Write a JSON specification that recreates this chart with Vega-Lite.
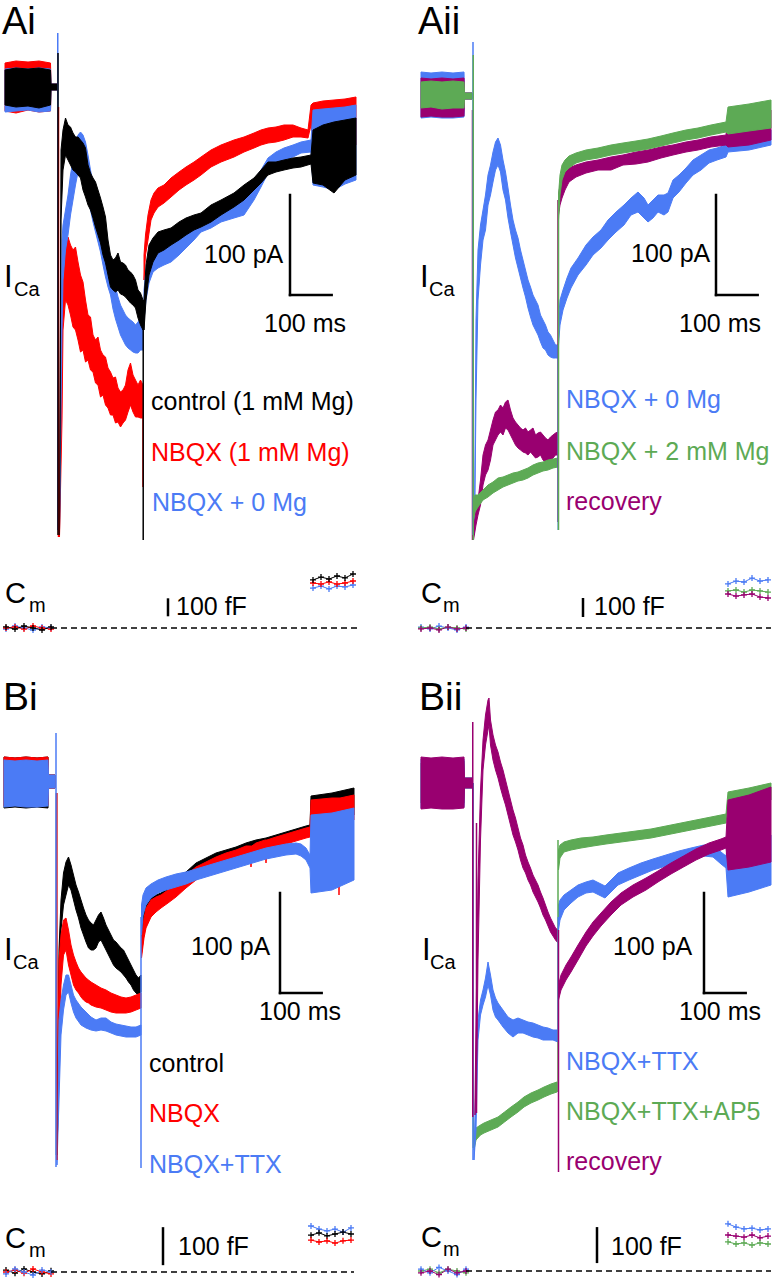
{
"$schema": "https://vega.github.io/schema/vega-lite/v6.json",
"padding": 0,
"spacing": 0,
"background": "white",
"config": {"view": {"stroke": null}, "axis": {"disable": true}, "text": {"font": "Liberation Sans", "fontSize": 25, "baseline": "alphabetic", "align": "left"}},
"datasets": {
"ai_red": [
{"seg":"pre","t":-127.2,"hi":24,"lo":-24},{"seg":"pre","t":-100.8,"hi":26,"lo":-26},{"seg":"pre","t":-72,"hi":25,"lo":-23},{"seg":"pre","t":-45.6,"hi":26,"lo":-25},{"seg":"pre","t":-18,"hi":24,"lo":-24},{"seg":"pre","t":-16.8,"hi":3,"lo":-3},{"seg":"pre","t":-2.4,"hi":3,"lo":-3},
{"seg":"pulse","t":3.6,"hi":-443,"lo":-450},{"seg":"pulse","t":9.6,"hi":-213,"lo":-333},{"seg":"pulse","t":12,"hi":-173,"lo":-243},{"seg":"pulse","t":18,"hi":-158,"lo":-213},{"seg":"pulse","t":24,"hi":-150,"lo":-218},{"seg":"pulse","t":30,"hi":-158,"lo":-228},{"seg":"pulse","t":36,"hi":-163,"lo":-240},{"seg":"pulse","t":42,"hi":-160,"lo":-243},{"seg":"pulse","t":48,"hi":-175,"lo":-253},{"seg":"pulse","t":54,"hi":-188,"lo":-265},{"seg":"pulse","t":60,"hi":-195,"lo":-263},{"seg":"pulse","t":66,"hi":-213,"lo":-275},{"seg":"pulse","t":72,"hi":-228,"lo":-273},{"seg":"pulse","t":78,"hi":-230,"lo":-283},{"seg":"pulse","t":84,"hi":-248,"lo":-285},{"seg":"pulse","t":90,"hi":-253,"lo":-296},{"seg":"pulse","t":96,"hi":-250,"lo":-298},{"seg":"pulse","t":102,"hi":-263,"lo":-310},{"seg":"pulse","t":108,"hi":-268,"lo":-308},{"seg":"pulse","t":114,"hi":-270,"lo":-318},{"seg":"pulse","t":120,"hi":-281,"lo":-321},{"seg":"pulse","t":126,"hi":-285,"lo":-328},{"seg":"pulse","t":132,"hi":-291,"lo":-328},{"seg":"pulse","t":138,"hi":-290,"lo":-336},{"seg":"pulse","t":144,"hi":-301,"lo":-335},{"seg":"pulse","t":150,"hi":-305,"lo":-340},{"seg":"pulse","t":156,"hi":-303,"lo":-336},{"seg":"pulse","t":162,"hi":-298,"lo":-333},{"seg":"pulse","t":168,"hi":-283,"lo":-325},{"seg":"pulse","t":174,"hi":-276,"lo":-318},{"seg":"pulse","t":180,"hi":-288,"lo":-325},{"seg":"pulse","t":186,"hi":-293,"lo":-330},{"seg":"pulse","t":192,"hi":-298,"lo":-330},{"seg":"pulse","t":198,"hi":-293,"lo":-331},{"seg":"pulse","t":204,"hi":-298,"lo":-331},
{"seg":"post","t":206.4,"hi":-168,"lo":-193},{"seg":"post","t":210,"hi":-148,"lo":-168},{"seg":"post","t":216,"hi":-128,"lo":-153},{"seg":"post","t":223.2,"hi":-113,"lo":-133},{"seg":"post","t":230.4,"hi":-106,"lo":-126},{"seg":"post","t":240,"hi":-101,"lo":-120},{"seg":"post","t":254.4,"hi":-98,"lo":-116},{"seg":"post","t":271.2,"hi":-91,"lo":-110},{"seg":"post","t":290.4,"hi":-85,"lo":-103},{"seg":"post","t":307.2,"hi":-80,"lo":-98},{"seg":"post","t":326.4,"hi":-75,"lo":-93},{"seg":"post","t":343.2,"hi":-70,"lo":-88},{"seg":"post","t":367.2,"hi":-63,"lo":-80},{"seg":"post","t":391.2,"hi":-58,"lo":-75},{"seg":"post","t":422.4,"hi":-53,"lo":-70},{"seg":"post","t":446.4,"hi":-50,"lo":-65},{"seg":"post","t":470.4,"hi":-46,"lo":-61},{"seg":"post","t":487.2,"hi":-43,"lo":-58},{"seg":"post","t":504,"hi":-41,"lo":-56},{"seg":"post","t":523.2,"hi":-40,"lo":-55},{"seg":"post","t":542.4,"hi":-38,"lo":-53},{"seg":"post","t":564,"hi":-38,"lo":-50},{"seg":"post","t":583.2,"hi":-41,"lo":-50},{"seg":"post","t":600,"hi":-43,"lo":-51},{"seg":"post","t":607.2,"hi":-18,"lo":-38},{"seg":"post","t":612,"hi":-16,"lo":-63},{"seg":"post","t":636,"hi":-14,"lo":-62},{"seg":"post","t":662.4,"hi":-13,"lo":-63},{"seg":"post","t":688.8,"hi":-12,"lo":-60},{"seg":"post","t":715.2,"hi":-10,"lo":-58}
],
"ai_blue": [
{"seg":"pre","t":-127.2,"hi":18,"lo":-25},{"seg":"pre","t":-100.8,"hi":19,"lo":-24},{"seg":"pre","t":-72,"hi":18,"lo":-23},{"seg":"pre","t":-45.6,"hi":19,"lo":-25},{"seg":"pre","t":-18,"hi":18,"lo":-24},{"seg":"pre","t":-16.8,"hi":3,"lo":-3},{"seg":"pre","t":-2.4,"hi":3,"lo":-3},
{"seg":"pulse","t":3.6,"hi":-433,"lo":-443},{"seg":"pulse","t":9.6,"hi":-153,"lo":-243},{"seg":"pulse","t":12,"hi":-138,"lo":-193},{"seg":"pulse","t":18,"hi":-123,"lo":-163},{"seg":"pulse","t":24,"hi":-108,"lo":-148},{"seg":"pulse","t":30,"hi":-88,"lo":-128},{"seg":"pulse","t":36,"hi":-73,"lo":-113},{"seg":"pulse","t":42,"hi":-58,"lo":-98},{"seg":"pulse","t":48,"hi":-48,"lo":-85},{"seg":"pulse","t":54,"hi":-45,"lo":-81},{"seg":"pulse","t":60,"hi":-48,"lo":-85},{"seg":"pulse","t":66,"hi":-55,"lo":-93},{"seg":"pulse","t":72,"hi":-68,"lo":-108},{"seg":"pulse","t":78,"hi":-83,"lo":-123},{"seg":"pulse","t":84,"hi":-96,"lo":-135},{"seg":"pulse","t":90,"hi":-108,"lo":-145},{"seg":"pulse","t":96,"hi":-118,"lo":-155},{"seg":"pulse","t":102,"hi":-128,"lo":-165},{"seg":"pulse","t":108,"hi":-141,"lo":-178},{"seg":"pulse","t":114,"hi":-153,"lo":-190},{"seg":"pulse","t":120,"hi":-163,"lo":-200},{"seg":"pulse","t":126,"hi":-173,"lo":-208},{"seg":"pulse","t":132,"hi":-188,"lo":-222},{"seg":"pulse","t":138,"hi":-200,"lo":-232},{"seg":"pulse","t":144,"hi":-210,"lo":-240},{"seg":"pulse","t":150,"hi":-218,"lo":-248},{"seg":"pulse","t":156,"hi":-223,"lo":-253},{"seg":"pulse","t":162,"hi":-228,"lo":-258},{"seg":"pulse","t":168,"hi":-231,"lo":-261},{"seg":"pulse","t":174,"hi":-233,"lo":-263},{"seg":"pulse","t":180,"hi":-235,"lo":-265},{"seg":"pulse","t":186,"hi":-238,"lo":-266},{"seg":"pulse","t":192,"hi":-235,"lo":-266},{"seg":"pulse","t":198,"hi":-231,"lo":-263},{"seg":"pulse","t":204,"hi":-228,"lo":-263},
{"seg":"post","t":206.4,"hi":-203,"lo":-233},{"seg":"post","t":211.2,"hi":-183,"lo":-213},{"seg":"post","t":218.4,"hi":-171,"lo":-196},{"seg":"post","t":228,"hi":-163,"lo":-185},{"seg":"post","t":240,"hi":-161,"lo":-181},{"seg":"post","t":254.4,"hi":-158,"lo":-178},{"seg":"post","t":271.2,"hi":-153,"lo":-175},{"seg":"post","t":290.4,"hi":-148,"lo":-168},{"seg":"post","t":307.2,"hi":-141,"lo":-161},{"seg":"post","t":326.4,"hi":-135,"lo":-153},{"seg":"post","t":343.2,"hi":-128,"lo":-145},{"seg":"post","t":367.2,"hi":-123,"lo":-141},{"seg":"post","t":391.2,"hi":-118,"lo":-135},{"seg":"post","t":422.4,"hi":-111,"lo":-131},{"seg":"post","t":446.4,"hi":-103,"lo":-128},{"seg":"post","t":470.4,"hi":-93,"lo":-113},{"seg":"post","t":487.2,"hi":-83,"lo":-100},{"seg":"post","t":504,"hi":-71,"lo":-86},{"seg":"post","t":523.2,"hi":-65,"lo":-78},{"seg":"post","t":542.4,"hi":-61,"lo":-73},{"seg":"post","t":564,"hi":-58,"lo":-70},{"seg":"post","t":583.2,"hi":-55,"lo":-66},{"seg":"post","t":607.2,"hi":-53,"lo":-65},{"seg":"post","t":612,"hi":-23,"lo":-98},{"seg":"post","t":636,"hi":-22,"lo":-100},{"seg":"post","t":662.4,"hi":-21,"lo":-103},{"seg":"post","t":688.8,"hi":-20,"lo":-97},{"seg":"post","t":715.2,"hi":-18,"lo":-93}
],
"ai_black": [
{"seg":"pre","t":-127.2,"hi":17,"lo":-18},{"seg":"pre","t":-100.8,"hi":19,"lo":-20},{"seg":"pre","t":-72,"hi":18,"lo":-19},{"seg":"pre","t":-45.6,"hi":19,"lo":-21},{"seg":"pre","t":-18,"hi":17,"lo":-18},{"seg":"pre","t":-16.8,"hi":3,"lo":-3},{"seg":"pre","t":-2.4,"hi":3,"lo":-3},
{"seg":"pulse","t":3.6,"hi":-443,"lo":-448},{"seg":"pulse","t":7.2,"hi":-63,"lo":-133},{"seg":"pulse","t":12,"hi":-43,"lo":-83},{"seg":"pulse","t":18,"hi":-31,"lo":-68},{"seg":"pulse","t":24,"hi":-38,"lo":-73},{"seg":"pulse","t":30,"hi":-40,"lo":-78},{"seg":"pulse","t":36,"hi":-46,"lo":-83},{"seg":"pulse","t":42,"hi":-50,"lo":-85},{"seg":"pulse","t":48,"hi":-50,"lo":-88},{"seg":"pulse","t":54,"hi":-53,"lo":-91},{"seg":"pulse","t":60,"hi":-56,"lo":-103},{"seg":"pulse","t":66,"hi":-61,"lo":-110},{"seg":"pulse","t":72,"hi":-78,"lo":-118},{"seg":"pulse","t":78,"hi":-86,"lo":-123},{"seg":"pulse","t":84,"hi":-91,"lo":-131},{"seg":"pulse","t":90,"hi":-95,"lo":-140},{"seg":"pulse","t":96,"hi":-103,"lo":-148},{"seg":"pulse","t":102,"hi":-111,"lo":-156},{"seg":"pulse","t":108,"hi":-120,"lo":-168},{"seg":"pulse","t":114,"hi":-130,"lo":-176},{"seg":"pulse","t":120,"hi":-153,"lo":-188},{"seg":"pulse","t":126,"hi":-168,"lo":-200},{"seg":"pulse","t":132,"hi":-173,"lo":-203},{"seg":"pulse","t":138,"hi":-171,"lo":-205},{"seg":"pulse","t":144,"hi":-166,"lo":-203},{"seg":"pulse","t":150,"hi":-175,"lo":-207},{"seg":"pulse","t":156,"hi":-176,"lo":-208},{"seg":"pulse","t":162,"hi":-178,"lo":-210},{"seg":"pulse","t":168,"hi":-183,"lo":-213},{"seg":"pulse","t":174,"hi":-185,"lo":-216},{"seg":"pulse","t":180,"hi":-188,"lo":-218},{"seg":"pulse","t":186,"hi":-193,"lo":-221},{"seg":"pulse","t":192,"hi":-203,"lo":-231},{"seg":"pulse","t":198,"hi":-206,"lo":-238},{"seg":"pulse","t":204,"hi":-213,"lo":-243},
{"seg":"post","t":206.4,"hi":-213,"lo":-243},{"seg":"post","t":211.2,"hi":-178,"lo":-213},{"seg":"post","t":218.4,"hi":-158,"lo":-188},{"seg":"post","t":228,"hi":-151,"lo":-175},{"seg":"post","t":240,"hi":-145,"lo":-166},{"seg":"post","t":254.4,"hi":-143,"lo":-163},{"seg":"post","t":271.2,"hi":-141,"lo":-158},{"seg":"post","t":290.4,"hi":-135,"lo":-153},{"seg":"post","t":307.2,"hi":-131,"lo":-148},{"seg":"post","t":326.4,"hi":-128,"lo":-143},{"seg":"post","t":343.2,"hi":-126,"lo":-140},{"seg":"post","t":367.2,"hi":-118,"lo":-135},{"seg":"post","t":391.2,"hi":-113,"lo":-128},{"seg":"post","t":422.4,"hi":-106,"lo":-120},{"seg":"post","t":446.4,"hi":-98,"lo":-113},{"seg":"post","t":470.4,"hi":-91,"lo":-103},{"seg":"post","t":487.2,"hi":-83,"lo":-96},{"seg":"post","t":504,"hi":-75,"lo":-88},{"seg":"post","t":523.2,"hi":-75,"lo":-85},{"seg":"post","t":542.4,"hi":-73,"lo":-83},{"seg":"post","t":564,"hi":-71,"lo":-81},{"seg":"post","t":583.2,"hi":-70,"lo":-80},{"seg":"post","t":607.2,"hi":-68,"lo":-77},{"seg":"post","t":612,"hi":-43,"lo":-96},{"seg":"post","t":636,"hi":-38,"lo":-98},{"seg":"post","t":662.4,"hi":-35,"lo":-106},{"seg":"post","t":688.8,"hi":-33,"lo":-93},{"seg":"post","t":715.2,"hi":-31,"lo":-88}
],
"ai_tr": [
{"trace":"NBQX + 0 Mg","t":-0.6,"top":54,"bottom":-443},{"trace":"NBQX","t":1.2,"top":-20,"bottom":-450},{"trace":"control","t":0,"top":34,"bottom":-448},{"trace":"NBQX","t":204,"top":-331,"bottom":-400},{"trace":"control","t":204.5,"top":-213,"bottom":-453}
],
"ai_cm": [
{"trace":"NBQX + 0 Mg","phase":"pre","t":-124.8,"fF":-6},{"trace":"NBQX + 0 Mg","phase":"pre","t":-103.2,"fF":11},{"trace":"NBQX + 0 Mg","phase":"pre","t":-81.6,"fF":0},{"trace":"NBQX + 0 Mg","phase":"pre","t":-60,"fF":-11},{"trace":"NBQX + 0 Mg","phase":"pre","t":-38.4,"fF":6},{"trace":"NBQX + 0 Mg","phase":"pre","t":-16.8,"fF":0},
{"trace":"NBQX","phase":"pre","t":-124.8,"fF":0},{"trace":"NBQX","phase":"pre","t":-103.2,"fF":6},{"trace":"NBQX","phase":"pre","t":-81.6,"fF":-6},{"trace":"NBQX","phase":"pre","t":-60,"fF":11},{"trace":"NBQX","phase":"pre","t":-38.4,"fF":0},{"trace":"NBQX","phase":"pre","t":-16.8,"fF":-6},
{"trace":"control","phase":"pre","t":-124.8,"fF":6},{"trace":"control","phase":"pre","t":-103.2,"fF":-6},{"trace":"control","phase":"pre","t":-81.6,"fF":11},{"trace":"control","phase":"pre","t":-60,"fF":0},{"trace":"control","phase":"pre","t":-38.4,"fF":-11},{"trace":"control","phase":"pre","t":-16.8,"fF":6},
{"trace":"NBQX + 0 Mg","phase":"post","t":612,"fF":222},{"trace":"NBQX + 0 Mg","phase":"post","t":631.2,"fF":233},{"trace":"NBQX + 0 Mg","phase":"post","t":650.4,"fF":217},{"trace":"NBQX + 0 Mg","phase":"post","t":669.6,"fF":233},{"trace":"NBQX + 0 Mg","phase":"post","t":688.8,"fF":228},{"trace":"NBQX + 0 Mg","phase":"post","t":708,"fF":239},
{"trace":"NBQX","phase":"post","t":612,"fF":250},{"trace":"NBQX","phase":"post","t":631.2,"fF":244},{"trace":"NBQX","phase":"post","t":650.4,"fF":256},{"trace":"NBQX","phase":"post","t":669.6,"fF":244},{"trace":"NBQX","phase":"post","t":688.8,"fF":250},{"trace":"NBQX","phase":"post","t":708,"fF":261},
{"trace":"control","phase":"post","t":612,"fF":267},{"trace":"control","phase":"post","t":631.2,"fF":283},{"trace":"control","phase":"post","t":650.4,"fF":272},{"trace":"control","phase":"post","t":669.6,"fF":289},{"trace":"control","phase":"post","t":688.8,"fF":278},{"trace":"control","phase":"post","t":708,"fF":300}
],
"aii_blue": [
{"seg":"pre","t":-124.8,"hi":23,"lo":-23},{"seg":"pre","t":-100.8,"hi":22,"lo":-22},{"seg":"pre","t":-74.4,"hi":23,"lo":-23},{"seg":"pre","t":-48,"hi":22,"lo":-23},{"seg":"pre","t":-21.6,"hi":23,"lo":-22},{"seg":"pre","t":-20.4,"hi":2,"lo":-4},{"seg":"pre","t":-2.4,"hi":2,"lo":-4},
{"seg":"pulse","t":3.6,"hi":-430,"lo":-440},{"seg":"pulse","t":7.2,"hi":-225,"lo":-305},{"seg":"pulse","t":12,"hi":-155,"lo":-205},{"seg":"pulse","t":18,"hi":-130,"lo":-170},{"seg":"pulse","t":24,"hi":-115,"lo":-145},{"seg":"pulse","t":30,"hi":-100,"lo":-135},{"seg":"pulse","t":36,"hi":-80,"lo":-110},{"seg":"pulse","t":42,"hi":-70,"lo":-100},{"seg":"pulse","t":48,"hi":-57,"lo":-87},{"seg":"pulse","t":54,"hi":-47,"lo":-75},{"seg":"pulse","t":60,"hi":-43,"lo":-70},{"seg":"pulse","t":66,"hi":-50,"lo":-77},{"seg":"pulse","t":72,"hi":-65,"lo":-95},{"seg":"pulse","t":78,"hi":-77,"lo":-105},{"seg":"pulse","t":84,"hi":-93,"lo":-123},{"seg":"pulse","t":90,"hi":-110,"lo":-137},{"seg":"pulse","t":96,"hi":-125,"lo":-150},{"seg":"pulse","t":102,"hi":-135,"lo":-163},{"seg":"pulse","t":108,"hi":-143,"lo":-173},{"seg":"pulse","t":114,"hi":-155,"lo":-183},{"seg":"pulse","t":120,"hi":-165,"lo":-193},{"seg":"pulse","t":126,"hi":-175,"lo":-202},{"seg":"pulse","t":132,"hi":-185,"lo":-213},{"seg":"pulse","t":138,"hi":-192,"lo":-222},{"seg":"pulse","t":144,"hi":-200,"lo":-230},{"seg":"pulse","t":150,"hi":-205,"lo":-235},{"seg":"pulse","t":156,"hi":-210,"lo":-240},{"seg":"pulse","t":162,"hi":-220,"lo":-247},{"seg":"pulse","t":168,"hi":-225,"lo":-253},{"seg":"pulse","t":174,"hi":-230,"lo":-255},{"seg":"pulse","t":180,"hi":-237,"lo":-260},{"seg":"pulse","t":186,"hi":-240,"lo":-262},{"seg":"pulse","t":192,"hi":-245,"lo":-263},{"seg":"pulse","t":198,"hi":-250,"lo":-263},{"seg":"pulse","t":204,"hi":-250,"lo":-263},
{"seg":"post","t":205.2,"hi":-225,"lo":-250},{"seg":"post","t":208.8,"hi":-205,"lo":-230},{"seg":"post","t":216,"hi":-195,"lo":-215},{"seg":"post","t":225.6,"hi":-183,"lo":-203},{"seg":"post","t":235.2,"hi":-173,"lo":-193},{"seg":"post","t":252,"hi":-163,"lo":-180},{"seg":"post","t":271.2,"hi":-150,"lo":-170},{"seg":"post","t":288,"hi":-142,"lo":-160},{"seg":"post","t":307.2,"hi":-135,"lo":-153},{"seg":"post","t":324,"hi":-125,"lo":-145},{"seg":"post","t":343.2,"hi":-117,"lo":-137},{"seg":"post","t":362.4,"hi":-110,"lo":-130},{"seg":"post","t":379.2,"hi":-103,"lo":-120},{"seg":"post","t":396,"hi":-97,"lo":-117},{"seg":"post","t":410.4,"hi":-103,"lo":-123},{"seg":"post","t":420,"hi":-110,"lo":-127},{"seg":"post","t":432,"hi":-105,"lo":-123},{"seg":"post","t":444,"hi":-100,"lo":-117},{"seg":"post","t":458.4,"hi":-100,"lo":-120},{"seg":"post","t":468,"hi":-98,"lo":-117},{"seg":"post","t":480,"hi":-85,"lo":-103},{"seg":"post","t":494.4,"hi":-80,"lo":-97},{"seg":"post","t":511.2,"hi":-73,"lo":-88},{"seg":"post","t":528,"hi":-65,"lo":-80},{"seg":"post","t":547.2,"hi":-60,"lo":-75},{"seg":"post","t":566.4,"hi":-55,"lo":-68},{"seg":"post","t":585.6,"hi":-53,"lo":-65},{"seg":"post","t":607.2,"hi":-50,"lo":-62},{"seg":"post","t":612,"hi":-43,"lo":-57},{"seg":"post","t":662.4,"hi":-40,"lo":-55},{"seg":"post","t":715.2,"hi":-35,"lo":-50}
],
"aii_purple": [
{"seg":"pre","t":-124.8,"hi":17,"lo":-22},{"seg":"pre","t":-100.8,"hi":16,"lo":-21},{"seg":"pre","t":-74.4,"hi":17,"lo":-22},{"seg":"pre","t":-48,"hi":16,"lo":-22},{"seg":"pre","t":-21.6,"hi":17,"lo":-21},{"seg":"pre","t":-20.4,"hi":2,"lo":-4},{"seg":"pre","t":-2.4,"hi":2,"lo":-4},
{"seg":"pulse","t":1.2,"hi":-435,"lo":-445},{"seg":"pulse","t":7.2,"hi":-415,"lo":-430},{"seg":"pulse","t":12,"hi":-405,"lo":-420},{"seg":"pulse","t":18,"hi":-385,"lo":-410},{"seg":"pulse","t":24,"hi":-360,"lo":-390},{"seg":"pulse","t":30,"hi":-350,"lo":-380},{"seg":"pulse","t":36,"hi":-345,"lo":-375},{"seg":"pulse","t":42,"hi":-335,"lo":-365},{"seg":"pulse","t":48,"hi":-325,"lo":-350},{"seg":"pulse","t":54,"hi":-317,"lo":-345},{"seg":"pulse","t":60,"hi":-315,"lo":-340},{"seg":"pulse","t":66,"hi":-310,"lo":-337},{"seg":"pulse","t":72,"hi":-313,"lo":-340},{"seg":"pulse","t":78,"hi":-307,"lo":-333},{"seg":"pulse","t":84,"hi":-305,"lo":-335},{"seg":"pulse","t":90,"hi":-315,"lo":-340},{"seg":"pulse","t":96,"hi":-323,"lo":-345},{"seg":"pulse","t":102,"hi":-327,"lo":-350},{"seg":"pulse","t":108,"hi":-330,"lo":-353},{"seg":"pulse","t":114,"hi":-333,"lo":-355},{"seg":"pulse","t":120,"hi":-335,"lo":-357},{"seg":"pulse","t":126,"hi":-333,"lo":-358},{"seg":"pulse","t":132,"hi":-337,"lo":-360},{"seg":"pulse","t":138,"hi":-335,"lo":-357},{"seg":"pulse","t":144,"hi":-333,"lo":-360},{"seg":"pulse","t":150,"hi":-340,"lo":-363},{"seg":"pulse","t":156,"hi":-338,"lo":-362},{"seg":"pulse","t":162,"hi":-337,"lo":-360},{"seg":"pulse","t":168,"hi":-340,"lo":-365},{"seg":"pulse","t":174,"hi":-343,"lo":-367},{"seg":"pulse","t":180,"hi":-345,"lo":-368},{"seg":"pulse","t":186,"hi":-342,"lo":-365},{"seg":"pulse","t":192,"hi":-340,"lo":-363},{"seg":"pulse","t":198,"hi":-338,"lo":-360},{"seg":"pulse","t":204,"hi":-337,"lo":-360},
{"seg":"post","t":205.2,"hi":-100,"lo":-120},{"seg":"post","t":208.8,"hi":-90,"lo":-110},{"seg":"post","t":213.6,"hi":-83,"lo":-103},{"seg":"post","t":220.8,"hi":-77,"lo":-95},{"seg":"post","t":230.4,"hi":-73,"lo":-87},{"seg":"post","t":247.2,"hi":-70,"lo":-82},{"seg":"post","t":271.2,"hi":-67,"lo":-78},{"seg":"post","t":300,"hi":-65,"lo":-75},{"seg":"post","t":331.2,"hi":-62,"lo":-75},{"seg":"post","t":360,"hi":-60,"lo":-70},{"seg":"post","t":391.2,"hi":-57,"lo":-69},{"seg":"post","t":420,"hi":-55,"lo":-67},{"seg":"post","t":451.2,"hi":-52,"lo":-63},{"seg":"post","t":480,"hi":-50,"lo":-60},{"seg":"post","t":511.2,"hi":-47,"lo":-57},{"seg":"post","t":540,"hi":-45,"lo":-55},{"seg":"post","t":571.2,"hi":-42,"lo":-52},{"seg":"post","t":607.2,"hi":-40,"lo":-50},{"seg":"post","t":612,"hi":-20,"lo":-52},{"seg":"post","t":662.4,"hi":-17,"lo":-50},{"seg":"post","t":715.2,"hi":-15,"lo":-45}
],
"aii_green": [
{"seg":"pre","t":-124.8,"hi":13,"lo":-13},{"seg":"pre","t":-100.8,"hi":14,"lo":-12},{"seg":"pre","t":-74.4,"hi":13,"lo":-14},{"seg":"pre","t":-48,"hi":14,"lo":-13},{"seg":"pre","t":-21.6,"hi":13,"lo":-13},{"seg":"pre","t":-20.4,"hi":2,"lo":-4},{"seg":"pre","t":-2.4,"hi":2,"lo":-4},
{"seg":"pulse","t":1.2,"hi":-410,"lo":-425},{"seg":"pulse","t":4.8,"hi":-400,"lo":-417},{"seg":"pulse","t":12,"hi":-400,"lo":-412},{"seg":"pulse","t":24,"hi":-395,"lo":-405},{"seg":"pulse","t":36,"hi":-390,"lo":-402},{"seg":"pulse","t":48,"hi":-387,"lo":-398},{"seg":"pulse","t":60,"hi":-383,"lo":-395},{"seg":"pulse","t":72,"hi":-382,"lo":-392},{"seg":"pulse","t":84,"hi":-380,"lo":-390},{"seg":"pulse","t":96,"hi":-378,"lo":-388},{"seg":"pulse","t":108,"hi":-377,"lo":-386},{"seg":"pulse","t":120,"hi":-375,"lo":-385},{"seg":"pulse","t":132,"hi":-373,"lo":-383},{"seg":"pulse","t":144,"hi":-370,"lo":-380},{"seg":"pulse","t":156,"hi":-368,"lo":-378},{"seg":"pulse","t":168,"hi":-367,"lo":-376},{"seg":"pulse","t":180,"hi":-365,"lo":-375},{"seg":"pulse","t":192,"hi":-364,"lo":-373},{"seg":"pulse","t":204,"hi":-363,"lo":-372},
{"seg":"post","t":205.2,"hi":-100,"lo":-125},{"seg":"post","t":208.8,"hi":-80,"lo":-100},{"seg":"post","t":213.6,"hi":-70,"lo":-85},{"seg":"post","t":220.8,"hi":-65,"lo":-77},{"seg":"post","t":230.4,"hi":-61,"lo":-73},{"seg":"post","t":247.2,"hi":-58,"lo":-68},{"seg":"post","t":271.2,"hi":-55,"lo":-65},{"seg":"post","t":300,"hi":-53,"lo":-63},{"seg":"post","t":331.2,"hi":-50,"lo":-60},{"seg":"post","t":360,"hi":-48,"lo":-58},{"seg":"post","t":391.2,"hi":-46,"lo":-56},{"seg":"post","t":420,"hi":-44,"lo":-54},{"seg":"post","t":451.2,"hi":-41,"lo":-51},{"seg":"post","t":480,"hi":-38,"lo":-48},{"seg":"post","t":511.2,"hi":-35,"lo":-45},{"seg":"post","t":540,"hi":-33,"lo":-43},{"seg":"post","t":571.2,"hi":-30,"lo":-40},{"seg":"post","t":607.2,"hi":-27,"lo":-37},{"seg":"post","t":612,"hi":-12,"lo":-39},{"seg":"post","t":662.4,"hi":-9,"lo":-36},{"seg":"post","t":715.2,"hi":-5,"lo":-33}
],
"aii_tr": [
{"trace":"recovery","t":-1.2,"top":-15,"bottom":-445},{"trace":"NBQX + 0 Mg","t":0,"top":53,"bottom":-440},{"trace":"NBQX + 2 mM Mg","t":0.6,"top":40,"bottom":-445},{"trace":"recovery","t":204,"top":-105,"bottom":-427},{"trace":"NBQX + 0 Mg","t":204.6,"top":-250,"bottom":-435},{"trace":"NBQX + 2 mM Mg","t":205.2,"top":-105,"bottom":-435}
],
"aii_cm": [
{"trace":"NBQX + 0 Mg","phase":"pre","t":-124.8,"fF":5},{"trace":"NBQX + 0 Mg","phase":"pre","t":-103.2,"fF":-5},{"trace":"NBQX + 0 Mg","phase":"pre","t":-81.6,"fF":10},{"trace":"NBQX + 0 Mg","phase":"pre","t":-60,"fF":0},{"trace":"NBQX + 0 Mg","phase":"pre","t":-38.4,"fF":-10},{"trace":"NBQX + 0 Mg","phase":"pre","t":-16.8,"fF":5},
{"trace":"NBQX + 2 mM Mg","phase":"pre","t":-124.8,"fF":0},{"trace":"NBQX + 2 mM Mg","phase":"pre","t":-103.2,"fF":5},{"trace":"NBQX + 2 mM Mg","phase":"pre","t":-81.6,"fF":-5},{"trace":"NBQX + 2 mM Mg","phase":"pre","t":-60,"fF":5},{"trace":"NBQX + 2 mM Mg","phase":"pre","t":-38.4,"fF":0},{"trace":"NBQX + 2 mM Mg","phase":"pre","t":-16.8,"fF":-5},
{"trace":"recovery","phase":"pre","t":-124.8,"fF":-5},{"trace":"recovery","phase":"pre","t":-103.2,"fF":0},{"trace":"recovery","phase":"pre","t":-81.6,"fF":-10},{"trace":"recovery","phase":"pre","t":-60,"fF":5},{"trace":"recovery","phase":"pre","t":-38.4,"fF":-5},{"trace":"recovery","phase":"pre","t":-16.8,"fF":0},
{"trace":"NBQX + 0 Mg","phase":"post","t":612,"fF":232},{"trace":"NBQX + 0 Mg","phase":"post","t":631.2,"fF":247},{"trace":"NBQX + 0 Mg","phase":"post","t":650.4,"fF":242},{"trace":"NBQX + 0 Mg","phase":"post","t":669.6,"fF":263},{"trace":"NBQX + 0 Mg","phase":"post","t":688.8,"fF":247},{"trace":"NBQX + 0 Mg","phase":"post","t":708,"fF":253},
{"trace":"NBQX + 2 mM Mg","phase":"post","t":612,"fF":195},{"trace":"NBQX + 2 mM Mg","phase":"post","t":631.2,"fF":200},{"trace":"NBQX + 2 mM Mg","phase":"post","t":650.4,"fF":189},{"trace":"NBQX + 2 mM Mg","phase":"post","t":669.6,"fF":200},{"trace":"NBQX + 2 mM Mg","phase":"post","t":688.8,"fF":195},{"trace":"NBQX + 2 mM Mg","phase":"post","t":708,"fF":189},
{"trace":"recovery","phase":"post","t":612,"fF":179},{"trace":"recovery","phase":"post","t":631.2,"fF":168},{"trace":"recovery","phase":"post","t":650.4,"fF":174},{"trace":"recovery","phase":"post","t":669.6,"fF":179},{"trace":"recovery","phase":"post","t":688.8,"fF":163},{"trace":"recovery","phase":"post","t":708,"fF":158}
],
"bi_black": [
{"seg":"pre","t":-124.8,"hi":26,"lo":-25},{"seg":"pre","t":-98.4,"hi":25,"lo":-24},{"seg":"pre","t":-72,"hi":26,"lo":-25},{"seg":"pre","t":-45.6,"hi":25,"lo":-24},{"seg":"pre","t":-19.2,"hi":26,"lo":-25},{"seg":"pre","t":-18,"hi":8,"lo":-5},{"seg":"pre","t":-2.4,"hi":8,"lo":-5},
{"seg":"pulse","t":2.4,"hi":-367,"lo":-377},{"seg":"pulse","t":7.2,"hi":-167,"lo":-267},{"seg":"pulse","t":12,"hi":-117,"lo":-147},{"seg":"pulse","t":18,"hi":-90,"lo":-122},{"seg":"pulse","t":24,"hi":-79,"lo":-112},{"seg":"pulse","t":30,"hi":-74,"lo":-102},{"seg":"pulse","t":36,"hi":-82,"lo":-107},{"seg":"pulse","t":42,"hi":-92,"lo":-117},{"seg":"pulse","t":48,"hi":-102,"lo":-127},{"seg":"pulse","t":54,"hi":-109,"lo":-135},{"seg":"pulse","t":60,"hi":-117,"lo":-145},{"seg":"pulse","t":66,"hi":-125,"lo":-152},{"seg":"pulse","t":72,"hi":-132,"lo":-159},{"seg":"pulse","t":78,"hi":-137,"lo":-165},{"seg":"pulse","t":84,"hi":-140,"lo":-167},{"seg":"pulse","t":90,"hi":-142,"lo":-167},{"seg":"pulse","t":96,"hi":-137,"lo":-165},{"seg":"pulse","t":102,"hi":-132,"lo":-159},{"seg":"pulse","t":108,"hi":-129,"lo":-157},{"seg":"pulse","t":114,"hi":-135,"lo":-162},{"seg":"pulse","t":120,"hi":-142,"lo":-167},{"seg":"pulse","t":126,"hi":-147,"lo":-172},{"seg":"pulse","t":132,"hi":-152,"lo":-177},{"seg":"pulse","t":138,"hi":-157,"lo":-182},{"seg":"pulse","t":144,"hi":-159,"lo":-185},{"seg":"pulse","t":150,"hi":-162,"lo":-187},{"seg":"pulse","t":156,"hi":-165,"lo":-189},{"seg":"pulse","t":162,"hi":-167,"lo":-192},{"seg":"pulse","t":168,"hi":-172,"lo":-195},{"seg":"pulse","t":174,"hi":-177,"lo":-199},{"seg":"pulse","t":180,"hi":-182,"lo":-202},{"seg":"pulse","t":186,"hi":-187,"lo":-207},{"seg":"pulse","t":192,"hi":-192,"lo":-210},{"seg":"pulse","t":198,"hi":-195,"lo":-212},{"seg":"pulse","t":204,"hi":-192,"lo":-209},
{"seg":"post","t":205.2,"hi":-150,"lo":-170},{"seg":"post","t":211.2,"hi":-130,"lo":-150},{"seg":"post","t":216,"hi":-122,"lo":-142},{"seg":"post","t":228,"hi":-114,"lo":-132},{"seg":"post","t":240,"hi":-112,"lo":-125},{"seg":"post","t":252,"hi":-110,"lo":-122},{"seg":"post","t":268.8,"hi":-104,"lo":-117},{"seg":"post","t":288,"hi":-97,"lo":-110},{"seg":"post","t":312,"hi":-89,"lo":-102},{"seg":"post","t":336,"hi":-80,"lo":-92},{"seg":"post","t":360,"hi":-75,"lo":-87},{"seg":"post","t":384,"hi":-70,"lo":-82},{"seg":"post","t":408,"hi":-67,"lo":-79},{"seg":"post","t":432,"hi":-64,"lo":-75},{"seg":"post","t":456,"hi":-60,"lo":-72},{"seg":"post","t":480,"hi":-57,"lo":-69},{"seg":"post","t":504,"hi":-55,"lo":-65},{"seg":"post","t":528,"hi":-52,"lo":-62},{"seg":"post","t":552,"hi":-49,"lo":-59},{"seg":"post","t":576,"hi":-46,"lo":-56},{"seg":"post","t":600,"hi":-43,"lo":-53},{"seg":"post","t":609.6,"hi":-42,"lo":-52},{"seg":"post","t":612,"hi":-13,"lo":-32},{"seg":"post","t":662.4,"hi":-10,"lo":-32},{"seg":"post","t":715.2,"hi":-5,"lo":-32}
],
"bi_red": [
{"seg":"pre","t":-124.8,"hi":26,"lo":-23},{"seg":"pre","t":-98.4,"hi":25,"lo":-22},{"seg":"pre","t":-72,"hi":26,"lo":-23},{"seg":"pre","t":-45.6,"hi":25,"lo":-23},{"seg":"pre","t":-19.2,"hi":26,"lo":-22},{"seg":"pre","t":-18,"hi":8,"lo":-5},{"seg":"pre","t":-2.4,"hi":8,"lo":-5},
{"seg":"pulse","t":2.4,"hi":-367,"lo":-377},{"seg":"pulse","t":7.2,"hi":-177,"lo":-277},{"seg":"pulse","t":12,"hi":-152,"lo":-202},{"seg":"pulse","t":18,"hi":-137,"lo":-172},{"seg":"pulse","t":24,"hi":-135,"lo":-167},{"seg":"pulse","t":30,"hi":-147,"lo":-182},{"seg":"pulse","t":36,"hi":-162,"lo":-192},{"seg":"pulse","t":42,"hi":-172,"lo":-202},{"seg":"pulse","t":48,"hi":-179,"lo":-207},{"seg":"pulse","t":54,"hi":-185,"lo":-210},{"seg":"pulse","t":60,"hi":-189,"lo":-214},{"seg":"pulse","t":66,"hi":-192,"lo":-217},{"seg":"pulse","t":72,"hi":-195,"lo":-219},{"seg":"pulse","t":78,"hi":-197,"lo":-220},{"seg":"pulse","t":84,"hi":-199,"lo":-222},{"seg":"pulse","t":96,"hi":-202,"lo":-224},{"seg":"pulse","t":108,"hi":-205,"lo":-225},{"seg":"pulse","t":120,"hi":-207,"lo":-227},{"seg":"pulse","t":132,"hi":-210,"lo":-229},{"seg":"pulse","t":144,"hi":-212,"lo":-230},{"seg":"pulse","t":156,"hi":-214,"lo":-230},{"seg":"pulse","t":168,"hi":-215,"lo":-230},{"seg":"pulse","t":180,"hi":-214,"lo":-229},{"seg":"pulse","t":192,"hi":-212,"lo":-227},{"seg":"pulse","t":204,"hi":-210,"lo":-225},
{"seg":"post","t":205.2,"hi":-155,"lo":-175},{"seg":"post","t":211.2,"hi":-135,"lo":-155},{"seg":"post","t":216,"hi":-125,"lo":-145},{"seg":"post","t":228,"hi":-117,"lo":-134},{"seg":"post","t":240,"hi":-114,"lo":-129},{"seg":"post","t":252,"hi":-112,"lo":-125},{"seg":"post","t":268.8,"hi":-107,"lo":-120},{"seg":"post","t":288,"hi":-100,"lo":-114},{"seg":"post","t":312,"hi":-92,"lo":-105},{"seg":"post","t":336,"hi":-84,"lo":-97},{"seg":"post","t":360,"hi":-79,"lo":-90},{"seg":"post","t":384,"hi":-74,"lo":-85},{"seg":"post","t":408,"hi":-70,"lo":-81},{"seg":"post","t":432,"hi":-67,"lo":-77},{"seg":"post","t":456,"hi":-63,"lo":-74},{"seg":"post","t":466,"hi":-63,"lo":-74},{"seg":"post","t":468,"hi":-63,"lo":-84},{"seg":"post","t":470,"hi":-63,"lo":-74},{"seg":"post","t":480,"hi":-60,"lo":-71},{"seg":"post","t":502,"hi":-57,"lo":-68},{"seg":"post","t":504,"hi":-57,"lo":-80},{"seg":"post","t":506,"hi":-57,"lo":-68},{"seg":"post","t":528,"hi":-54,"lo":-64},{"seg":"post","t":552,"hi":-51,"lo":-61},{"seg":"post","t":576,"hi":-48,"lo":-58},{"seg":"post","t":600,"hi":-45,"lo":-55},{"seg":"post","t":609.6,"hi":-44,"lo":-54},{"seg":"post","t":612,"hi":-17,"lo":-39},{"seg":"post","t":662.4,"hi":-15,"lo":-39},{"seg":"post","t":676.8,"hi":-15,"lo":-39},{"seg":"post","t":679.2,"hi":-15,"lo":-112},{"seg":"post","t":681.6,"hi":-15,"lo":-39},{"seg":"post","t":715.2,"hi":-12,"lo":-37}
],
"bi_blue": [
{"seg":"pre","t":-124.8,"hi":23,"lo":-24},{"seg":"pre","t":-98.4,"hi":22,"lo":-23},{"seg":"pre","t":-72,"hi":23,"lo":-24},{"seg":"pre","t":-45.6,"hi":22,"lo":-24},{"seg":"pre","t":-19.2,"hi":23,"lo":-23},{"seg":"pre","t":-18,"hi":8,"lo":-5},{"seg":"pre","t":-2.4,"hi":8,"lo":-5},
{"seg":"pulse","t":2.4,"hi":-372,"lo":-382},{"seg":"pulse","t":7.2,"hi":-237,"lo":-317},{"seg":"pulse","t":12,"hi":-217,"lo":-252},{"seg":"pulse","t":18,"hi":-202,"lo":-227},{"seg":"pulse","t":24,"hi":-192,"lo":-212},{"seg":"pulse","t":30,"hi":-192,"lo":-209},{"seg":"pulse","t":36,"hi":-202,"lo":-220},{"seg":"pulse","t":42,"hi":-212,"lo":-229},{"seg":"pulse","t":48,"hi":-217,"lo":-235},{"seg":"pulse","t":60,"hi":-224,"lo":-242},{"seg":"pulse","t":72,"hi":-229,"lo":-245},{"seg":"pulse","t":84,"hi":-234,"lo":-247},{"seg":"pulse","t":96,"hi":-237,"lo":-248},{"seg":"pulse","t":108,"hi":-235,"lo":-247},{"seg":"pulse","t":120,"hi":-235,"lo":-248},{"seg":"pulse","t":132,"hi":-239,"lo":-250},{"seg":"pulse","t":144,"hi":-241,"lo":-252},{"seg":"pulse","t":156,"hi":-242,"lo":-253},{"seg":"pulse","t":168,"hi":-243,"lo":-254},{"seg":"pulse","t":180,"hi":-244,"lo":-254},{"seg":"pulse","t":192,"hi":-244,"lo":-254},{"seg":"pulse","t":204,"hi":-242,"lo":-252},
{"seg":"post","t":205.2,"hi":-122,"lo":-152},{"seg":"post","t":208.8,"hi":-112,"lo":-132},{"seg":"post","t":216,"hi":-105,"lo":-122},{"seg":"post","t":228,"hi":-101,"lo":-115},{"seg":"post","t":244.8,"hi":-97,"lo":-110},{"seg":"post","t":264,"hi":-94,"lo":-107},{"seg":"post","t":288,"hi":-91,"lo":-104},{"seg":"post","t":312,"hi":-89,"lo":-101},{"seg":"post","t":336,"hi":-86,"lo":-97},{"seg":"post","t":360,"hi":-83,"lo":-94},{"seg":"post","t":384,"hi":-80,"lo":-91},{"seg":"post","t":408,"hi":-77,"lo":-88},{"seg":"post","t":432,"hi":-74,"lo":-85},{"seg":"post","t":456,"hi":-71,"lo":-82},{"seg":"post","t":480,"hi":-68,"lo":-79},{"seg":"post","t":504,"hi":-65,"lo":-76},{"seg":"post","t":528,"hi":-63,"lo":-74},{"seg":"post","t":552,"hi":-61,"lo":-72},{"seg":"post","t":576,"hi":-60,"lo":-71},{"seg":"post","t":588,"hi":-61,"lo":-73},{"seg":"post","t":600,"hi":-65,"lo":-77},{"seg":"post","t":609.6,"hi":-72,"lo":-85},{"seg":"post","t":612,"hi":-32,"lo":-110},{"seg":"post","t":662.4,"hi":-30,"lo":-107},{"seg":"post","t":715.2,"hi":-25,"lo":-97}
],
"bi_tr": [
{"trace":"control","t":1.2,"top":-10,"bottom":-372},{"trace":"NBQX","t":1.8,"top":-10,"bottom":-377},{"trace":"NBQX+TTX","t":0,"top":50,"bottom":-384},{"trace":"NBQX+TTX","t":204,"top":-134,"bottom":-385}
],
"bi_cm": [
{"trace":"control","phase":"pre","t":-120,"fF":5},{"trace":"control","phase":"pre","t":-98.4,"fF":-3},{"trace":"control","phase":"pre","t":-76.8,"fF":8},{"trace":"control","phase":"pre","t":-55.2,"fF":0},{"trace":"control","phase":"pre","t":-33.6,"fF":-5},{"trace":"control","phase":"pre","t":-12,"fF":3},
{"trace":"NBQX","phase":"pre","t":-120,"fF":0},{"trace":"NBQX","phase":"pre","t":-98.4,"fF":5},{"trace":"NBQX","phase":"pre","t":-76.8,"fF":-3},{"trace":"NBQX","phase":"pre","t":-55.2,"fF":8},{"trace":"NBQX","phase":"pre","t":-33.6,"fF":0},{"trace":"NBQX","phase":"pre","t":-12,"fF":-5},
{"trace":"NBQX+TTX","phase":"pre","t":-120,"fF":-5},{"trace":"NBQX+TTX","phase":"pre","t":-98.4,"fF":8},{"trace":"NBQX+TTX","phase":"pre","t":-76.8,"fF":0},{"trace":"NBQX+TTX","phase":"pre","t":-55.2,"fF":-8},{"trace":"NBQX+TTX","phase":"pre","t":-33.6,"fF":5},{"trace":"NBQX+TTX","phase":"pre","t":-12,"fF":0},
{"trace":"NBQX+TTX","phase":"post","t":612,"fF":121},{"trace":"NBQX+TTX","phase":"post","t":631.2,"fF":113},{"trace":"NBQX+TTX","phase":"post","t":650.4,"fF":108},{"trace":"NBQX+TTX","phase":"post","t":669.6,"fF":113},{"trace":"NBQX+TTX","phase":"post","t":688.8,"fF":105},{"trace":"NBQX+TTX","phase":"post","t":708,"fF":116},
{"trace":"control","phase":"post","t":612,"fF":97},{"trace":"control","phase":"post","t":631.2,"fF":103},{"trace":"control","phase":"post","t":650.4,"fF":95},{"trace":"control","phase":"post","t":669.6,"fF":100},{"trace":"control","phase":"post","t":688.8,"fF":105},{"trace":"control","phase":"post","t":708,"fF":100},
{"trace":"NBQX","phase":"post","t":612,"fF":84},{"trace":"NBQX","phase":"post","t":631.2,"fF":79},{"trace":"NBQX","phase":"post","t":650.4,"fF":82},{"trace":"NBQX","phase":"post","t":669.6,"fF":76},{"trace":"NBQX","phase":"post","t":688.8,"fF":82},{"trace":"NBQX","phase":"post","t":708,"fF":84}
],
"bii_green": [
{"seg":"pre","t":-124.8,"hi":20,"lo":-20},{"seg":"pre","t":-100.8,"hi":19,"lo":-19},{"seg":"pre","t":-74.4,"hi":20,"lo":-20},{"seg":"pre","t":-48,"hi":19,"lo":-19},{"seg":"pre","t":-21.6,"hi":22,"lo":-20},{"seg":"pre","t":-20.4,"hi":5,"lo":-5},{"seg":"pre","t":-2.4,"hi":5,"lo":-5},
{"seg":"pulse","t":2.4,"hi":-352,"lo":-367},{"seg":"pulse","t":7.2,"hi":-345,"lo":-357},{"seg":"pulse","t":18,"hi":-342,"lo":-352},{"seg":"pulse","t":26.4,"hi":-340,"lo":-350},{"seg":"pulse","t":43.2,"hi":-337,"lo":-347},{"seg":"pulse","t":60,"hi":-334,"lo":-344},{"seg":"pulse","t":75.6,"hi":-329,"lo":-339},{"seg":"pulse","t":91.2,"hi":-324,"lo":-334},{"seg":"pulse","t":108,"hi":-319,"lo":-329},{"seg":"pulse","t":122.4,"hi":-314,"lo":-324},{"seg":"pulse","t":139.2,"hi":-310,"lo":-320},{"seg":"pulse","t":156,"hi":-307,"lo":-317},{"seg":"pulse","t":170.4,"hi":-304,"lo":-314},{"seg":"pulse","t":187.2,"hi":-301,"lo":-311},{"seg":"pulse","t":201.6,"hi":-299,"lo":-309},
{"seg":"post","t":205.2,"hi":-67,"lo":-87},{"seg":"post","t":208.8,"hi":-62,"lo":-75},{"seg":"post","t":218.4,"hi":-59,"lo":-69},{"seg":"post","t":235.2,"hi":-57,"lo":-67},{"seg":"post","t":259.2,"hi":-55,"lo":-65},{"seg":"post","t":288,"hi":-54,"lo":-63},{"seg":"post","t":319.2,"hi":-52,"lo":-61},{"seg":"post","t":355.2,"hi":-50,"lo":-59},{"seg":"post","t":391.2,"hi":-48,"lo":-57},{"seg":"post","t":427.2,"hi":-46,"lo":-55},{"seg":"post","t":463.2,"hi":-43,"lo":-52},{"seg":"post","t":499.2,"hi":-40,"lo":-49},{"seg":"post","t":535.2,"hi":-37,"lo":-46},{"seg":"post","t":571.2,"hi":-34,"lo":-43},{"seg":"post","t":607.2,"hi":-31,"lo":-40},{"seg":"post","t":612,"hi":-9,"lo":-22},{"seg":"post","t":662.4,"hi":-5,"lo":-22},{"seg":"post","t":715.2,"hi":0,"lo":-17}
],
"bii_blue": [
{"seg":"pre","t":-124.8,"hi":24,"lo":-25},{"seg":"pre","t":-100.8,"hi":23,"lo":-24},{"seg":"pre","t":-74.4,"hi":24,"lo":-25},{"seg":"pre","t":-48,"hi":23,"lo":-25},{"seg":"pre","t":-21.6,"hi":24,"lo":-24},{"seg":"pre","t":-20.4,"hi":5,"lo":-5},{"seg":"pre","t":-2.4,"hi":5,"lo":-5},
{"seg":"pulse","t":2.4,"hi":-367,"lo":-377},{"seg":"pulse","t":7.2,"hi":-297,"lo":-347},{"seg":"pulse","t":12,"hi":-237,"lo":-257},{"seg":"pulse","t":18,"hi":-217,"lo":-232},{"seg":"pulse","t":24,"hi":-207,"lo":-222},{"seg":"pulse","t":30,"hi":-195,"lo":-214},{"seg":"pulse","t":36,"hi":-179,"lo":-202},{"seg":"pulse","t":42,"hi":-192,"lo":-212},{"seg":"pulse","t":48,"hi":-207,"lo":-227},{"seg":"pulse","t":54,"hi":-215,"lo":-234},{"seg":"pulse","t":60,"hi":-220,"lo":-237},{"seg":"pulse","t":72,"hi":-227,"lo":-244},{"seg":"pulse","t":84,"hi":-234,"lo":-250},{"seg":"pulse","t":96,"hi":-237,"lo":-254},{"seg":"pulse","t":108,"hi":-235,"lo":-250},{"seg":"pulse","t":120,"hi":-237,"lo":-250},{"seg":"pulse","t":132,"hi":-239,"lo":-252},{"seg":"pulse","t":144,"hi":-240,"lo":-254},{"seg":"pulse","t":156,"hi":-242,"lo":-255},{"seg":"pulse","t":168,"hi":-244,"lo":-257},{"seg":"pulse","t":180,"hi":-245,"lo":-257},{"seg":"pulse","t":192,"hi":-247,"lo":-257},{"seg":"pulse","t":204,"hi":-247,"lo":-259},
{"seg":"post","t":205.2,"hi":-122,"lo":-147},{"seg":"post","t":208.8,"hi":-117,"lo":-137},{"seg":"post","t":218.4,"hi":-112,"lo":-127},{"seg":"post","t":235.2,"hi":-107,"lo":-120},{"seg":"post","t":252,"hi":-102,"lo":-114},{"seg":"post","t":271.2,"hi":-99,"lo":-110},{"seg":"post","t":288,"hi":-97,"lo":-109},{"seg":"post","t":302.4,"hi":-100,"lo":-112},{"seg":"post","t":316.8,"hi":-103,"lo":-115},{"seg":"post","t":331.2,"hi":-97,"lo":-109},{"seg":"post","t":348,"hi":-90,"lo":-102},{"seg":"post","t":374.4,"hi":-85,"lo":-97},{"seg":"post","t":403.2,"hi":-80,"lo":-92},{"seg":"post","t":432,"hi":-76,"lo":-87},{"seg":"post","t":463.2,"hi":-72,"lo":-83},{"seg":"post","t":494.4,"hi":-68,"lo":-79},{"seg":"post","t":523.2,"hi":-65,"lo":-76},{"seg":"post","t":554.4,"hi":-62,"lo":-73},{"seg":"post","t":576,"hi":-63,"lo":-74},{"seg":"post","t":595.2,"hi":-69,"lo":-81},{"seg":"post","t":607.2,"hi":-73,"lo":-85},{"seg":"post","t":612,"hi":-57,"lo":-114},{"seg":"post","t":662.4,"hi":-55,"lo":-109},{"seg":"post","t":715.2,"hi":-52,"lo":-102}
],
"bii_purple": [
{"seg":"pre","t":-124.8,"hi":26,"lo":-26},{"seg":"pre","t":-100.8,"hi":25,"lo":-25},{"seg":"pre","t":-74.4,"hi":26,"lo":-26},{"seg":"pre","t":-48,"hi":25,"lo":-26},{"seg":"pre","t":-21.6,"hi":26,"lo":-25},{"seg":"pre","t":-20.4,"hi":5,"lo":-5},{"seg":"pre","t":-2.4,"hi":5,"lo":-5},
{"seg":"pulse","t":4.8,"hi":-317,"lo":-332},{"seg":"pulse","t":9.6,"hi":-167,"lo":-267},{"seg":"pulse","t":12,"hi":-97,"lo":-177},{"seg":"pulse","t":18,"hi":-7,"lo":-57},{"seg":"pulse","t":24,"hi":43,"lo":13},{"seg":"pulse","t":30,"hi":68,"lo":38},{"seg":"pulse","t":36,"hi":83,"lo":53},{"seg":"pulse","t":38.4,"hi":85,"lo":58},{"seg":"pulse","t":42,"hi":63,"lo":38},{"seg":"pulse","t":48,"hi":48,"lo":23},{"seg":"pulse","t":54,"hi":38,"lo":13},{"seg":"pulse","t":60,"hi":31,"lo":5},{"seg":"pulse","t":66,"hi":21,"lo":-5},{"seg":"pulse","t":72,"hi":13,"lo":-14},{"seg":"pulse","t":78,"hi":3,"lo":-22},{"seg":"pulse","t":84,"hi":-7,"lo":-32},{"seg":"pulse","t":90,"hi":-17,"lo":-42},{"seg":"pulse","t":96,"hi":-27,"lo":-52},{"seg":"pulse","t":102,"hi":-35,"lo":-59},{"seg":"pulse","t":108,"hi":-45,"lo":-67},{"seg":"pulse","t":114,"hi":-55,"lo":-77},{"seg":"pulse","t":120,"hi":-62,"lo":-85},{"seg":"pulse","t":126,"hi":-72,"lo":-90},{"seg":"pulse","t":132,"hi":-79,"lo":-97},{"seg":"pulse","t":138,"hi":-85,"lo":-102},{"seg":"pulse","t":144,"hi":-92,"lo":-109},{"seg":"pulse","t":150,"hi":-97,"lo":-114},{"seg":"pulse","t":156,"hi":-102,"lo":-119},{"seg":"pulse","t":162,"hi":-109,"lo":-125},{"seg":"pulse","t":168,"hi":-115,"lo":-132},{"seg":"pulse","t":174,"hi":-122,"lo":-137},{"seg":"pulse","t":180,"hi":-129,"lo":-143},{"seg":"pulse","t":186,"hi":-135,"lo":-149},{"seg":"pulse","t":192,"hi":-140,"lo":-153},{"seg":"pulse","t":198,"hi":-145,"lo":-157},{"seg":"pulse","t":204,"hi":-147,"lo":-160},
{"seg":"post","t":205.2,"hi":-202,"lo":-217},{"seg":"post","t":211.2,"hi":-192,"lo":-207},{"seg":"post","t":223.2,"hi":-182,"lo":-197},{"seg":"post","t":235.2,"hi":-174,"lo":-189},{"seg":"post","t":252,"hi":-162,"lo":-177},{"seg":"post","t":271.2,"hi":-149,"lo":-163},{"seg":"post","t":288,"hi":-139,"lo":-153},{"seg":"post","t":307.2,"hi":-130,"lo":-143},{"seg":"post","t":331.2,"hi":-119,"lo":-132},{"seg":"post","t":355.2,"hi":-110,"lo":-122},{"seg":"post","t":384,"hi":-102,"lo":-114},{"seg":"post","t":415.2,"hi":-95,"lo":-107},{"seg":"post","t":444,"hi":-88,"lo":-99},{"seg":"post","t":475.2,"hi":-80,"lo":-91},{"seg":"post","t":505.2,"hi":-73,"lo":-84},{"seg":"post","t":535.2,"hi":-66,"lo":-77},{"seg":"post","t":566.4,"hi":-60,"lo":-71},{"seg":"post","t":595.2,"hi":-56,"lo":-67},{"seg":"post","t":607.2,"hi":-54,"lo":-65},{"seg":"post","t":612,"hi":-17,"lo":-87},{"seg":"post","t":662.4,"hi":-12,"lo":-84},{"seg":"post","t":715.2,"hi":-4,"lo":-79}
],
"bii_tr": [
{"trace":"NBQX+TTX+AP5","t":0.6,"top":0,"bottom":-365},{"trace":"NBQX+TTX","t":0,"top":0,"bottom":-377},{"trace":"recovery","t":-0.6,"top":61,"bottom":-334},{"trace":"recovery","t":8.4,"top":-40,"bottom":-330},{"trace":"NBQX+TTX+AP5","t":204,"top":-57,"bottom":-309},{"trace":"NBQX+TTX","t":204.6,"top":-134,"bottom":-259},{"trace":"recovery","t":205.2,"top":-147,"bottom":-389}
],
"bii_cm": [
{"trace":"NBQX+TTX+AP5","phase":"pre","t":-124.8,"fF":0},{"trace":"NBQX+TTX+AP5","phase":"pre","t":-103.2,"fF":5},{"trace":"NBQX+TTX+AP5","phase":"pre","t":-81.6,"fF":-5},{"trace":"NBQX+TTX+AP5","phase":"pre","t":-60,"fF":5},{"trace":"NBQX+TTX+AP5","phase":"pre","t":-38.4,"fF":0},{"trace":"NBQX+TTX+AP5","phase":"pre","t":-16.8,"fF":-5},
{"trace":"NBQX+TTX","phase":"pre","t":-124.8,"fF":5},{"trace":"NBQX+TTX","phase":"pre","t":-103.2,"fF":-5},{"trace":"NBQX+TTX","phase":"pre","t":-81.6,"fF":10},{"trace":"NBQX+TTX","phase":"pre","t":-60,"fF":0},{"trace":"NBQX+TTX","phase":"pre","t":-38.4,"fF":-10},{"trace":"NBQX+TTX","phase":"pre","t":-16.8,"fF":5},
{"trace":"recovery","phase":"pre","t":-124.8,"fF":-5},{"trace":"recovery","phase":"pre","t":-103.2,"fF":0},{"trace":"recovery","phase":"pre","t":-81.6,"fF":-10},{"trace":"recovery","phase":"pre","t":-60,"fF":5},{"trace":"recovery","phase":"pre","t":-38.4,"fF":-5},{"trace":"recovery","phase":"pre","t":-16.8,"fF":0},
{"trace":"NBQX+TTX","phase":"post","t":612,"fF":131},{"trace":"NBQX+TTX","phase":"post","t":631.2,"fF":122},{"trace":"NBQX+TTX","phase":"post","t":650.4,"fF":117},{"trace":"NBQX+TTX","phase":"post","t":669.6,"fF":119},{"trace":"NBQX+TTX","phase":"post","t":688.8,"fF":114},{"trace":"NBQX+TTX","phase":"post","t":708,"fF":117},
{"trace":"recovery","phase":"post","t":612,"fF":100},{"trace":"recovery","phase":"post","t":631.2,"fF":97},{"trace":"recovery","phase":"post","t":650.4,"fF":94},{"trace":"recovery","phase":"post","t":669.6,"fF":100},{"trace":"recovery","phase":"post","t":688.8,"fF":92},{"trace":"recovery","phase":"post","t":708,"fF":97},
{"trace":"NBQX+TTX+AP5","phase":"post","t":612,"fF":81},{"trace":"NBQX+TTX+AP5","phase":"post","t":631.2,"fF":75},{"trace":"NBQX+TTX+AP5","phase":"post","t":650.4,"fF":78},{"trace":"NBQX+TTX+AP5","phase":"post","t":669.6,"fF":72},{"trace":"NBQX+TTX+AP5","phase":"post","t":688.8,"fF":78},{"trace":"NBQX+TTX+AP5","phase":"post","t":708,"fF":75}
]
},
"vconcat": [
{"hconcat": [
{"width": 390, "height": 640, "resolve": {"scale": {"y": "independent"}},
"layer": [
{"layer": [
{"data": {"name": "ai_red"}, "mark": {"type": "area", "color": "#FF0000", "stroke": "#FF0000", "strokeWidth": 1}, "encoding": {"x": {"field": "t", "type": "quantitative", "scale": {"domain": [-136.8, 799.2], "nice": false, "zero": false}, "axis": null}, "y": {"field": "hi", "type": "quantitative", "scale": {"domain": [-553, 87], "nice": false, "zero": false}, "axis": null}, "y2": {"field": "lo"}, "detail": {"field": "seg"}}},
{"data": {"name": "ai_blue"}, "mark": {"type": "area", "color": "#4B7BF5", "stroke": "#4B7BF5", "strokeWidth": 1}, "encoding": {"x": {"field": "t", "type": "quantitative"}, "y": {"field": "hi", "type": "quantitative"}, "y2": {"field": "lo"}, "detail": {"field": "seg"}}},
{"data": {"name": "ai_black"}, "mark": {"type": "area", "color": "#000000", "stroke": "#000000", "strokeWidth": 1}, "encoding": {"x": {"field": "t", "type": "quantitative"}, "y": {"field": "hi", "type": "quantitative"}, "y2": {"field": "lo"}, "detail": {"field": "seg"}}},
{"data": {"name": "ai_tr"}, "mark": {"type": "rule", "strokeWidth": 1.5}, "encoding": {"x": {"field": "t", "type": "quantitative"}, "y": {"field": "top", "type": "quantitative"}, "y2": {"field": "bottom"}, "color": {"field": "trace", "type": "nominal", "scale": {"domain": ["control","NBQX","NBQX + 0 Mg","NBQX + 2 mM Mg","recovery","NBQX+TTX","NBQX+TTX+AP5"], "range": ["#000000","#FF0000","#4B7BF5","#5DAA55","#990070","#4B7BF5","#5DAA55"]}, "legend": null}}},
{"data": {"values": [{}]}, "mark": {"type": "rule", "strokeWidth": 2.5, "color": "#000000", "strokeCap": "square"}, "encoding": {"x": {"datum": 556.8}, "y": {"datum": -108}, "y2": {"datum": -208}}},
{"data": {"values": [{}]}, "mark": {"type": "rule", "strokeWidth": 2.5, "color": "#000000", "strokeCap": "square"}, "encoding": {"x": {"datum": 556.8}, "x2": {"datum": 656.8}, "y": {"datum": -208}}},
{"data": {"values": [{}]}, "mark": {"type": "text", "text": "Ai", "fontSize": 38}, "encoding": {"x": {"datum": -134.4}, "y": {"datum": 53}}},
{"data": {"values": [{}]}, "mark": {"type": "text", "text": "I", "fontSize": 31}, "encoding": {"x": {"datum": -129.6}, "y": {"datum": -200}}},
{"data": {"values": [{}]}, "mark": {"type": "text", "text": "Ca", "fontSize": 20}, "encoding": {"x": {"datum": -105.6}, "y": {"datum": -209}}},
{"data": {"values": [{}]}, "mark": {"type": "text", "text": "100 pA"}, "encoding": {"x": {"datum": 350.4}, "y": {"datum": -176}}},
{"data": {"values": [{}]}, "mark": {"type": "text", "text": "100 ms"}, "encoding": {"x": {"datum": 494.4}, "y": {"datum": -245}}},
{"data": {"values": [{}]}, "mark": {"type": "text", "text": "control (1 mM Mg)", "color": "#000000"}, "encoding": {"x": {"datum": 223.2}, "y": {"datum": -323}}},
{"data": {"values": [{}]}, "mark": {"type": "text", "text": "NBQX (1 mM Mg)", "color": "#FF0000"}, "encoding": {"x": {"datum": 223.2}, "y": {"datum": -374}}},
{"data": {"values": [{}]}, "mark": {"type": "text", "text": "NBQX + 0 Mg", "color": "#4B7BF5"}, "encoding": {"x": {"datum": 225.6}, "y": {"datum": -424}}}
]},
{"layer": [
{"data": {"name": "ai_cm"}, "mark": {"type": "line", "strokeWidth": 1}, "encoding": {"x": {"field": "t", "type": "quantitative"}, "y": {"field": "fF", "type": "quantitative", "scale": {"domain": [-66.67, 3488.89], "nice": false, "zero": false}, "axis": null}, "color": {"field": "trace", "type": "nominal", "scale": {"domain": ["control","NBQX","NBQX + 0 Mg","NBQX + 2 mM Mg","recovery","NBQX+TTX","NBQX+TTX+AP5"], "range": ["#000000","#FF0000","#4B7BF5","#5DAA55","#990070","#4B7BF5","#5DAA55"]}, "legend": null}, "detail": {"field": "phase"}}},
{"data": {"name": "ai_cm"}, "mark": {"type": "point", "shape": "M-1,0L1,0M0,-1L0,1", "filled": false, "size": 36, "strokeWidth": 1.3, "opacity": 1}, "encoding": {"x": {"field": "t", "type": "quantitative"}, "y": {"field": "fF", "type": "quantitative"}, "color": {"field": "trace", "type": "nominal", "legend": null}}},
{"data": {"values": [{}]}, "mark": {"type": "rule", "strokeWidth": 1.5, "color": "#000000", "strokeDash": [6, 4]}, "encoding": {"x": {"datum": -16.8}, "x2": {"datum": 720}, "y": {"datum": 0}}},
{"data": {"values": [{}]}, "mark": {"type": "rule", "strokeWidth": 2.5, "color": "#000000"}, "encoding": {"x": {"datum": 264}, "y": {"datum": 65}, "y2": {"datum": 165}}},
{"data": {"values": [{}]}, "mark": {"type": "text", "text": "C", "fontSize": 29}, "encoding": {"x": {"datum": -127.2}, "y": {"datum": 139}}},
{"data": {"values": [{}]}, "mark": {"type": "text", "text": "m", "fontSize": 20}, "encoding": {"x": {"datum": -69.6}, "y": {"datum": 89}}},
{"data": {"values": [{}]}, "mark": {"type": "text", "text": "100 fF"}, "encoding": {"x": {"datum": 283.2}, "y": {"datum": 72}}}
]}
]},
{"width": 383, "height": 640, "resolve": {"scale": {"y": "independent"}},
"layer": [
{"layer": [
{"data": {"name": "aii_blue"}, "mark": {"type": "area", "color": "#4B7BF5", "stroke": "#4B7BF5", "strokeWidth": 1}, "encoding": {"x": {"field": "t", "type": "quantitative", "scale": {"domain": [-196.8, 722.4], "nice": false, "zero": false}, "axis": null}, "y": {"field": "hi", "type": "quantitative", "scale": {"domain": [-545, 95], "nice": false, "zero": false}, "axis": null}, "y2": {"field": "lo"}, "detail": {"field": "seg"}}},
{"data": {"name": "aii_purple"}, "mark": {"type": "area", "color": "#990070", "stroke": "#990070", "strokeWidth": 1}, "encoding": {"x": {"field": "t", "type": "quantitative"}, "y": {"field": "hi", "type": "quantitative"}, "y2": {"field": "lo"}, "detail": {"field": "seg"}}},
{"data": {"name": "aii_green"}, "mark": {"type": "area", "color": "#5DAA55", "stroke": "#5DAA55", "strokeWidth": 1}, "encoding": {"x": {"field": "t", "type": "quantitative"}, "y": {"field": "hi", "type": "quantitative"}, "y2": {"field": "lo"}, "detail": {"field": "seg"}}},
{"data": {"name": "aii_tr"}, "mark": {"type": "rule", "strokeWidth": 1.5}, "encoding": {"x": {"field": "t", "type": "quantitative"}, "y": {"field": "top", "type": "quantitative"}, "y2": {"field": "bottom"}, "color": {"field": "trace", "type": "nominal", "scale": {"domain": ["control","NBQX","NBQX + 0 Mg","NBQX + 2 mM Mg","recovery","NBQX+TTX","NBQX+TTX+AP5"], "range": ["#000000","#FF0000","#4B7BF5","#5DAA55","#990070","#4B7BF5","#5DAA55"]}, "legend": null}}},
{"data": {"values": [{}]}, "mark": {"type": "rule", "strokeWidth": 2.5, "color": "#000000", "strokeCap": "square"}, "encoding": {"x": {"datum": 583.2}, "y": {"datum": -100}, "y2": {"datum": -200}}},
{"data": {"values": [{}]}, "mark": {"type": "rule", "strokeWidth": 2.5, "color": "#000000", "strokeCap": "square"}, "encoding": {"x": {"datum": 583.2}, "x2": {"datum": 683.2}, "y": {"datum": -200}}},
{"data": {"values": [{}]}, "mark": {"type": "text", "text": "Aii", "fontSize": 38}, "encoding": {"x": {"datum": -132}, "y": {"datum": 61}}},
{"data": {"values": [{}]}, "mark": {"type": "text", "text": "I", "fontSize": 31}, "encoding": {"x": {"datum": -127.2}, "y": {"datum": -192}}},
{"data": {"values": [{}]}, "mark": {"type": "text", "text": "Ca", "fontSize": 20}, "encoding": {"x": {"datum": -105.6}, "y": {"datum": -201}}},
{"data": {"values": [{}]}, "mark": {"type": "text", "text": "100 pA"}, "encoding": {"x": {"datum": 379.2}, "y": {"datum": -167}}},
{"data": {"values": [{}]}, "mark": {"type": "text", "text": "100 ms"}, "encoding": {"x": {"datum": 494.4}, "y": {"datum": -237}}},
{"data": {"values": [{}]}, "mark": {"type": "text", "text": "NBQX + 0 Mg", "color": "#4B7BF5"}, "encoding": {"x": {"datum": 223.2}, "y": {"datum": -313}}},
{"data": {"values": [{}]}, "mark": {"type": "text", "text": "NBQX + 2 mM Mg", "color": "#5DAA55"}, "encoding": {"x": {"datum": 223.2}, "y": {"datum": -365}}},
{"data": {"values": [{}]}, "mark": {"type": "text", "text": "recovery", "color": "#990070"}, "encoding": {"x": {"datum": 223.2}, "y": {"datum": -415}}}
]},
{"layer": [
{"data": {"name": "aii_cm"}, "mark": {"type": "line", "strokeWidth": 1}, "encoding": {"x": {"field": "t", "type": "quantitative"}, "y": {"field": "fF", "type": "quantitative", "scale": {"domain": [-63.16, 3305.26], "nice": false, "zero": false}, "axis": null}, "color": {"field": "trace", "type": "nominal", "scale": {"domain": ["control","NBQX","NBQX + 0 Mg","NBQX + 2 mM Mg","recovery","NBQX+TTX","NBQX+TTX+AP5"], "range": ["#000000","#FF0000","#4B7BF5","#5DAA55","#990070","#4B7BF5","#5DAA55"]}, "legend": null}, "detail": {"field": "phase"}}},
{"data": {"name": "aii_cm"}, "mark": {"type": "point", "shape": "M-1,0L1,0M0,-1L0,1", "filled": false, "size": 36, "strokeWidth": 1.3, "opacity": 1}, "encoding": {"x": {"field": "t", "type": "quantitative"}, "y": {"field": "fF", "type": "quantitative"}, "color": {"field": "trace", "type": "nominal", "legend": null}}},
{"data": {"values": [{}]}, "mark": {"type": "rule", "strokeWidth": 1.5, "color": "#000000", "strokeDash": [6, 4]}, "encoding": {"x": {"datum": -16.8}, "x2": {"datum": 715.2}, "y": {"datum": 0}}},
{"data": {"values": [{}]}, "mark": {"type": "rule", "strokeWidth": 2.5, "color": "#000000"}, "encoding": {"x": {"datum": 264}, "y": {"datum": 58}, "y2": {"datum": 158}}},
{"data": {"values": [{}]}, "mark": {"type": "text", "text": "C", "fontSize": 29}, "encoding": {"x": {"datum": -124.8}, "y": {"datum": 132}}},
{"data": {"values": [{}]}, "mark": {"type": "text", "text": "m", "fontSize": 20}, "encoding": {"x": {"datum": -72}, "y": {"datum": 84}}},
{"data": {"values": [{}]}, "mark": {"type": "text", "text": "100 fF"}, "encoding": {"x": {"datum": 290.4}, "y": {"datum": 68}}}
]}
]}
], "spacing": 0, "bounds": "flush"},
{"hconcat": [
{"width": 390, "height": 640, "resolve": {"scale": {"y": "independent"}},
"layer": [
{"layer": [
{"data": {"name": "bi_black"}, "mark": {"type": "area", "color": "#000000", "stroke": "#000000", "strokeWidth": 1}, "encoding": {"x": {"field": "t", "type": "quantitative", "scale": {"domain": [-132, 804], "nice": false, "zero": false}, "axis": null}, "y": {"field": "hi", "type": "quantitative", "scale": {"domain": [-497, 143], "nice": false, "zero": false}, "axis": null}, "y2": {"field": "lo"}, "detail": {"field": "seg"}}},
{"data": {"name": "bi_red"}, "mark": {"type": "area", "color": "#FF0000", "stroke": "#FF0000", "strokeWidth": 1}, "encoding": {"x": {"field": "t", "type": "quantitative"}, "y": {"field": "hi", "type": "quantitative"}, "y2": {"field": "lo"}, "detail": {"field": "seg"}}},
{"data": {"name": "bi_blue"}, "mark": {"type": "area", "color": "#4B7BF5", "stroke": "#4B7BF5", "strokeWidth": 1}, "encoding": {"x": {"field": "t", "type": "quantitative"}, "y": {"field": "hi", "type": "quantitative"}, "y2": {"field": "lo"}, "detail": {"field": "seg"}}},
{"data": {"name": "bi_tr"}, "mark": {"type": "rule", "strokeWidth": 1.5}, "encoding": {"x": {"field": "t", "type": "quantitative"}, "y": {"field": "top", "type": "quantitative"}, "y2": {"field": "bottom"}, "color": {"field": "trace", "type": "nominal", "scale": {"domain": ["control","NBQX","NBQX + 0 Mg","NBQX + 2 mM Mg","recovery","NBQX+TTX","NBQX+TTX+AP5"], "range": ["#000000","#FF0000","#4B7BF5","#5DAA55","#990070","#4B7BF5","#5DAA55"]}, "legend": null}}},
{"data": {"values": [{}]}, "mark": {"type": "rule", "strokeWidth": 2.5, "color": "#000000", "strokeCap": "square"}, "encoding": {"x": {"datum": 537.6}, "y": {"datum": -110}, "y2": {"datum": -210}}},
{"data": {"values": [{}]}, "mark": {"type": "rule", "strokeWidth": 2.5, "color": "#000000", "strokeCap": "square"}, "encoding": {"x": {"datum": 537.6}, "x2": {"datum": 637.6}, "y": {"datum": -210}}},
{"data": {"values": [{}]}, "mark": {"type": "text", "text": "Bi", "fontSize": 39}, "encoding": {"x": {"datum": -127.2}, "y": {"datum": 73}}},
{"data": {"values": [{}]}, "mark": {"type": "text", "text": "I", "fontSize": 31}, "encoding": {"x": {"datum": -124.8}, "y": {"datum": -177}}},
{"data": {"values": [{}]}, "mark": {"type": "text", "text": "Ca", "fontSize": 20}, "encoding": {"x": {"datum": -103.2}, "y": {"datum": -186}}},
{"data": {"values": [{}]}, "mark": {"type": "text", "text": "100 pA"}, "encoding": {"x": {"datum": 324}, "y": {"datum": -172}}},
{"data": {"values": [{}]}, "mark": {"type": "text", "text": "100 ms"}, "encoding": {"x": {"datum": 487.2}, "y": {"datum": -237}}},
{"data": {"values": [{}]}, "mark": {"type": "text", "text": "control", "color": "#000000"}, "encoding": {"x": {"datum": 223.2}, "y": {"datum": -289}}},
{"data": {"values": [{}]}, "mark": {"type": "text", "text": "NBQX", "color": "#FF0000"}, "encoding": {"x": {"datum": 223.2}, "y": {"datum": -339}}},
{"data": {"values": [{}]}, "mark": {"type": "text", "text": "NBQX+TTX", "color": "#4B7BF5"}, "encoding": {"x": {"datum": 223.2}, "y": {"datum": -390}}}
]},
{"layer": [
{"data": {"name": "bi_cm"}, "mark": {"type": "line", "strokeWidth": 1}, "encoding": {"x": {"field": "t", "type": "quantitative"}, "y": {"field": "fF", "type": "quantitative", "scale": {"domain": [-21.05, 1663.16], "nice": false, "zero": false}, "axis": null}, "color": {"field": "trace", "type": "nominal", "scale": {"domain": ["control","NBQX","NBQX + 0 Mg","NBQX + 2 mM Mg","recovery","NBQX+TTX","NBQX+TTX+AP5"], "range": ["#000000","#FF0000","#4B7BF5","#5DAA55","#990070","#4B7BF5","#5DAA55"]}, "legend": null}, "detail": {"field": "phase"}}},
{"data": {"name": "bi_cm"}, "mark": {"type": "point", "shape": "M-1,0L1,0M0,-1L0,1", "filled": false, "size": 36, "strokeWidth": 1.3, "opacity": 1}, "encoding": {"x": {"field": "t", "type": "quantitative"}, "y": {"field": "fF", "type": "quantitative"}, "color": {"field": "trace", "type": "nominal", "legend": null}}},
{"data": {"values": [{}]}, "mark": {"type": "rule", "strokeWidth": 1.5, "color": "#000000", "strokeDash": [6, 4]}, "encoding": {"x": {"datum": -12}, "x2": {"datum": 715.2}, "y": {"datum": 0}}},
{"data": {"values": [{}]}, "mark": {"type": "rule", "strokeWidth": 2.5, "color": "#000000"}, "encoding": {"x": {"datum": 256.8}, "y": {"datum": 18}, "y2": {"datum": 118}}},
{"data": {"values": [{}]}, "mark": {"type": "text", "text": "C", "fontSize": 29}, "encoding": {"x": {"datum": -122.4}, "y": {"datum": 63}}},
{"data": {"values": [{}]}, "mark": {"type": "text", "text": "m", "fontSize": 20}, "encoding": {"x": {"datum": -64.8}, "y": {"datum": 40}}},
{"data": {"values": [{}]}, "mark": {"type": "text", "text": "100 fF"}, "encoding": {"x": {"datum": 292.8}, "y": {"datum": 45}}}
]}
]},
{"width": 383, "height": 640, "resolve": {"scale": {"y": "independent"}},
"layer": [
{"layer": [
{"data": {"name": "bii_green"}, "mark": {"type": "area", "color": "#5DAA55", "stroke": "#5DAA55", "strokeWidth": 1}, "encoding": {"x": {"field": "t", "type": "quantitative", "scale": {"domain": [-196.8, 722.4], "nice": false, "zero": false}, "axis": null}, "y": {"field": "hi", "type": "quantitative", "scale": {"domain": [-497, 143], "nice": false, "zero": false}, "axis": null}, "y2": {"field": "lo"}, "detail": {"field": "seg"}}},
{"data": {"name": "bii_blue"}, "mark": {"type": "area", "color": "#4B7BF5", "stroke": "#4B7BF5", "strokeWidth": 1}, "encoding": {"x": {"field": "t", "type": "quantitative"}, "y": {"field": "hi", "type": "quantitative"}, "y2": {"field": "lo"}, "detail": {"field": "seg"}}},
{"data": {"name": "bii_purple"}, "mark": {"type": "area", "color": "#990070", "stroke": "#990070", "strokeWidth": 1}, "encoding": {"x": {"field": "t", "type": "quantitative"}, "y": {"field": "hi", "type": "quantitative"}, "y2": {"field": "lo"}, "detail": {"field": "seg"}}},
{"data": {"name": "bii_tr"}, "mark": {"type": "rule", "strokeWidth": 1.5}, "encoding": {"x": {"field": "t", "type": "quantitative"}, "y": {"field": "top", "type": "quantitative"}, "y2": {"field": "bottom"}, "color": {"field": "trace", "type": "nominal", "scale": {"domain": ["control","NBQX","NBQX + 0 Mg","NBQX + 2 mM Mg","recovery","NBQX+TTX","NBQX+TTX+AP5"], "range": ["#000000","#FF0000","#4B7BF5","#5DAA55","#990070","#4B7BF5","#5DAA55"]}, "legend": null}}},
{"data": {"values": [{}]}, "mark": {"type": "rule", "strokeWidth": 2.5, "color": "#000000", "strokeCap": "square"}, "encoding": {"x": {"datum": 554.4}, "y": {"datum": -110}, "y2": {"datum": -210}}},
{"data": {"values": [{}]}, "mark": {"type": "rule", "strokeWidth": 2.5, "color": "#000000", "strokeCap": "square"}, "encoding": {"x": {"datum": 554.4}, "x2": {"datum": 654.4}, "y": {"datum": -210}}},
{"data": {"values": [{}]}, "mark": {"type": "text", "text": "Bii", "fontSize": 39}, "encoding": {"x": {"datum": -129.6}, "y": {"datum": 73}}},
{"data": {"values": [{}]}, "mark": {"type": "text", "text": "I", "fontSize": 31}, "encoding": {"x": {"datum": -122.4}, "y": {"datum": -177}}},
{"data": {"values": [{}]}, "mark": {"type": "text", "text": "Ca", "fontSize": 20}, "encoding": {"x": {"datum": -103.2}, "y": {"datum": -186}}},
{"data": {"values": [{}]}, "mark": {"type": "text", "text": "100 pA"}, "encoding": {"x": {"datum": 336}, "y": {"datum": -172}}},
{"data": {"values": [{}]}, "mark": {"type": "text", "text": "100 ms"}, "encoding": {"x": {"datum": 494.4}, "y": {"datum": -237}}},
{"data": {"values": [{}]}, "mark": {"type": "text", "text": "NBQX+TTX", "color": "#4B7BF5"}, "encoding": {"x": {"datum": 223.2}, "y": {"datum": -287}}},
{"data": {"values": [{}]}, "mark": {"type": "text", "text": "NBQX+TTX+AP5", "color": "#5DAA55"}, "encoding": {"x": {"datum": 223.2}, "y": {"datum": -337}}},
{"data": {"values": [{}]}, "mark": {"type": "text", "text": "recovery", "color": "#990070"}, "encoding": {"x": {"datum": 223.2}, "y": {"datum": -387}}}
]},
{"layer": [
{"data": {"name": "bii_cm"}, "mark": {"type": "line", "strokeWidth": 1}, "encoding": {"x": {"field": "t", "type": "quantitative"}, "y": {"field": "fF", "type": "quantitative", "scale": {"domain": [-25, 1752.78], "nice": false, "zero": false}, "axis": null}, "color": {"field": "trace", "type": "nominal", "scale": {"domain": ["control","NBQX","NBQX + 0 Mg","NBQX + 2 mM Mg","recovery","NBQX+TTX","NBQX+TTX+AP5"], "range": ["#000000","#FF0000","#4B7BF5","#5DAA55","#990070","#4B7BF5","#5DAA55"]}, "legend": null}, "detail": {"field": "phase"}}},
{"data": {"name": "bii_cm"}, "mark": {"type": "point", "shape": "M-1,0L1,0M0,-1L0,1", "filled": false, "size": 36, "strokeWidth": 1.3, "opacity": 1}, "encoding": {"x": {"field": "t", "type": "quantitative"}, "y": {"field": "fF", "type": "quantitative"}, "color": {"field": "trace", "type": "nominal", "legend": null}}},
{"data": {"values": [{}]}, "mark": {"type": "rule", "strokeWidth": 1.5, "color": "#000000", "strokeDash": [6, 4]}, "encoding": {"x": {"datum": -16.8}, "x2": {"datum": 715.2}, "y": {"datum": 0}}},
{"data": {"values": [{}]}, "mark": {"type": "rule", "strokeWidth": 2.5, "color": "#000000"}, "encoding": {"x": {"datum": 297.6}, "y": {"datum": 22}, "y2": {"datum": 122}}},
{"data": {"values": [{}]}, "mark": {"type": "text", "text": "C", "fontSize": 29}, "encoding": {"x": {"datum": -124.8}, "y": {"datum": 67}}},
{"data": {"values": [{}]}, "mark": {"type": "text", "text": "m", "fontSize": 20}, "encoding": {"x": {"datum": -72}, "y": {"datum": 42}}},
{"data": {"values": [{}]}, "mark": {"type": "text", "text": "100 fF"}, "encoding": {"x": {"datum": 331.2}, "y": {"datum": 44}}}
]}
]}
], "spacing": 0, "bounds": "flush"}
]
}
